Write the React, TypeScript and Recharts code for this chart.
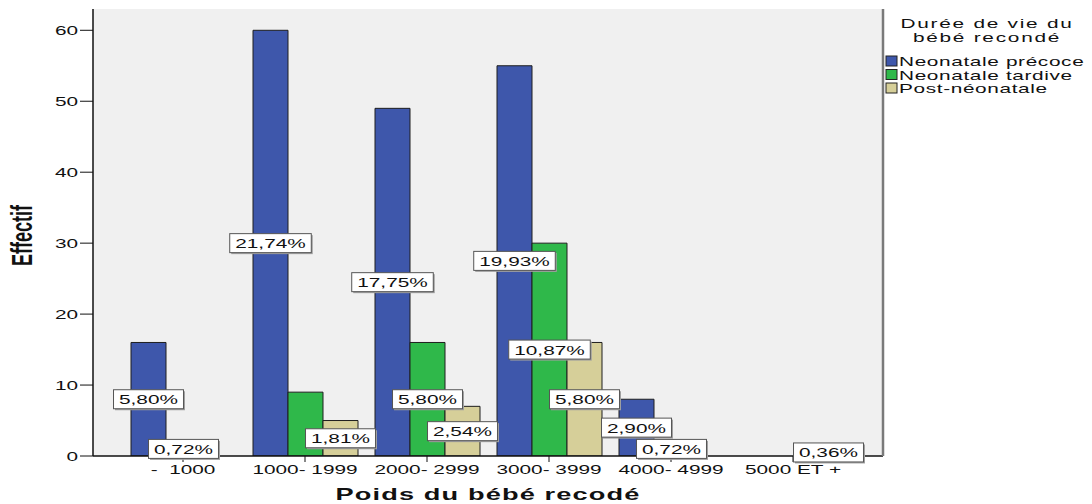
import { Bar, BarChart, CartesianGrid, LabelList, XAxis, YAxis } from "recharts"

// Effectifs par tranche de poids
const categories = ["-  1000", "1000- 1999", "2000- 2999", "3000- 3999", "4000- 4999", "5000 ET +"]
const precoce = [16, 60, 49, 55, 8, 0]
const tardive = [2, 9, 16, 30, 2, 0]
const postNeonatale = [0, 5, 7, 16, 0, 1]
const seriesNames = ["Neonatale précoce", "Neonatale tardive", "Post-néonatale"]
const legendTitle = ["Durée de vie du", "bébé recondé"]
const yTicks = [0, 10, 20, 30, 40, 50, 60]
// SPSS drops a label when it would collide with its neighbour
const hiddenLabels = [{ series: 1, index: 1 }]

const COLORS = ["#3e57ab", "#2fb84a", "#d6cf99"]
const KEYS = ["precoce", "tardive", "post"]
const FONT = "'Liberation Sans', Arial, sans-serif"
const SX = 1.6 // the SPSS export is stretched horizontally

const total = [...precoce, ...tardive, ...postNeonatale].reduce((a, b) => a + b, 0)

const data = categories.map((name, i) => ({
  name,
  precoce: precoce[i],
  tardive: tardive[i],
  post: postNeonatale[i],
}))

const pct = (v: number) => ((v / total) * 100).toFixed(2).replace(".", ",") + "%"

// rough Arial widths at 13px
const charWidth = (c: string) => (c === "," ? 3.61 : c === "%" ? 11.56 : 7.23)
const textWidth = (s: string) => s.split("").reduce((w, c) => w + charWidth(c), 0) * SX

function WideText({ x, y, anchor = "middle", size = 13, weight = "normal", spacing = 0, children }: any) {
  return (
    <text
      transform={`translate(${x},${y}) scale(${SX},1)`}
      textAnchor={anchor}
      fontFamily={FONT}
      fontSize={size}
      fontWeight={weight}
      letterSpacing={spacing}
      fill="#111"
      style={{ whiteSpace: "pre" }}
    >
      {children}
    </text>
  )
}

function makePctLabel(series: number) {
  return (props: any) => {
    const vb = props.viewBox ?? props
    const x = props.x ?? vb.x
    const y = props.y ?? vb.y
    const width = props.width ?? vb.width
    const height = props.height ?? vb.height
    const { value, index } = props
    if (!value) return null
    if (hiddenLabels.some((h) => h.series === series && h.index === index)) return null
    const text = pct(Number(value))
    const w = textWidth(text) + 11
    const h = 19
    const cx = x + width / 2
    const cy = y + height / 2
    return (
      <g>
        <rect x={cx - w / 2 + 1.5} y={cy - h / 2 + 1.5} width={w} height={h} fill="#a0a0a0" />
        <rect x={cx - w / 2} y={cy - h / 2} width={w} height={h} fill="#fff" stroke="#555" strokeWidth={1} />
        <WideText x={cx} y={cy + 5}>{text}</WideText>
      </g>
    )
  }
}

function XTick({ x, y, payload }: any) {
  return <WideText x={x} y={y + 10}>{payload.value}</WideText>
}

function YTick({ x, y, payload }: any) {
  return <WideText x={x} y={y + 4.5} anchor="end">{payload.value}</WideText>
}

function XTitle({ viewBox }: any) {
  return (
    <WideText x={viewBox.x + viewBox.width / 2} y={viewBox.y + 44} size={17} weight="bold" spacing={0.7}>
      Poids du bébé recodé
    </WideText>
  )
}

function YTitle({ viewBox }: any) {
  const cy = viewBox.y + viewBox.height / 2 + 3
  return (
    <text
      transform={`translate(32,${cy}) scale(${SX},1) rotate(-90)`}
      textAnchor="middle"
      fontFamily={FONT}
      fontSize={18}
      fontWeight="bold"
      fill="#111"
    >
      Effectif
    </text>
  )
}

function LegendBox() {
  return (
    <svg width={1092} height={504} style={{ position: "absolute", left: 0, top: 0, pointerEvents: "none" }}>
      {legendTitle.map((line, i) => (
        <WideText key={line} x={987} y={28 + i * 13.5} spacing={1.1}>
          {line}
        </WideText>
      ))}
      {seriesNames.map((name, i) => (
        <g key={name}>
          <rect x={886} y={56 + i * 13.5} width={11} height={10} fill={COLORS[i]} stroke="#222" strokeWidth={1} />
          <WideText x={899} y={66 + i * 13.5} anchor="start" spacing={0.4}>
            {name}
          </WideText>
        </g>
      ))}
    </svg>
  )
}

export default function App() {
  return (
    <div style={{ position: "absolute", left: 0, top: 0, width: 1092, height: 504, background: "#fff" }}>
      <BarChart
        width={1092}
        height={504}
        data={data}
        margin={{ top: 9, right: 205, bottom: 0, left: 0 }}
        barCategoryGap={9}
        barGap={0}
      >
        <CartesianGrid fill="#f0f0f0" horizontal={false} vertical={false} yAxisId="l" />
        <XAxis
          dataKey="name"
          height={48}
          padding={{ left: 29, right: 29 }}
          axisLine={{ stroke: "#111", strokeWidth: 1.5 }}
          tickLine={{ stroke: "#111" }}
          tickSize={6}
          tickMargin={2}
          tick={<XTick />}
          interval={0}
          label={{ content: <XTitle /> }}
        />
        <YAxis
          yAxisId="l"
          width={93}
          domain={[0, 63]}
          ticks={yTicks}
          allowDataOverflow
          axisLine={{ stroke: "#111", strokeWidth: 1.5 }}
          tickLine={{ stroke: "#111" }}
          tickSize={13}
          tickMargin={2}
          tick={<YTick />}
          label={{ content: <YTitle /> }}
        />
        <YAxis
          yAxisId="r"
          orientation="right"
          width={4}
          domain={[0, 63]}
          tick={false}
          tickLine={false}
          axisLine={{ stroke: "#7a7a7a", strokeWidth: 2.5 }}
        />
        {KEYS.map((key, i) => (
          <Bar
            key={key}
            yAxisId="l"
            dataKey={key}
            name={seriesNames[i]}
            fill={COLORS[i]}
            stroke="#1e1e1e"
            strokeWidth={1}
            isAnimationActive={false}
          >
            <LabelList dataKey={key} content={makePctLabel(i)} />
          </Bar>
        ))}
      </BarChart>
      <LegendBox />
    </div>
  )
}
